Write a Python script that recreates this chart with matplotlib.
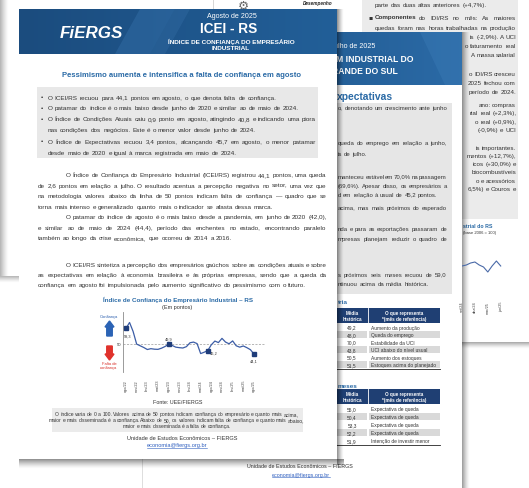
import matplotlib
matplotlib.use("Agg")
import matplotlib.pyplot as plt
import matplotlib.colors as mc
import numpy as np
from matplotlib.patches import Rectangle, FancyArrow

# ---------------- data ----------------
months = ["ago/22", "set/22", "out/22", "nov/22", "dez/22", "jan/23", "fev/23", "mar/23", "abr/23",
          "mai/23", "jun/23", "jul/23", "ago/23", "set/23", "out/23", "nov/23", "dez/23", "jan/24",
          "fev/24", "mar/24", "abr/24", "mai/24", "jun/24", "jul/24", "ago/24", "set/24", "out/24",
          "nov/24", "dez/24", "jan/25", "fev/25", "mar/25", "abr/25", "mai/25", "jun/25", "jul/25",
          "ago/25"]
icei = [59.3, 62.8, 57.5, 50.0, 49.0, 48.0, 46.8, 47.3, 47.0, 46.9, 47.6, 48.6,
        49.9, 49.2, 48.2, 47.9, 47.7, 48.5, 50.8, 51.2, 50.3, 44.4, 45.2, 46.2,
        49.6, 51.8, 50.9, 53.4, 51.2, 50.2, 51.9, 49.0, 48.2, 48.9, 47.9, 46.7, 44.1]
tick_months = months[::3]
labelled_months = ["ago/22", "ago/23", "jul/24", "ago/25"]

idi_months = ["set/24", "out/24", "nov/24", "dez/24", "jan/25", "fev/25", "mar/25", "abr/25", "mai/25", "jun/25"]
idi_values = [101.5, 102.0, 103.0, 103.5, 102.0, 101.0, 98.5, 101.5, 104.0, 101.5]
idi_ticks = ["set/24", "dez/24", "mar/25", "jun/25"]

t1_vals = ["49,2", "48,0", "70,0", "43,8", "50,5", "51,5"]
t1_desc = ["Aumento da produção", "Queda do emprego", "Estabilidade da UCI",
           "UCI abaixo do nível usual", "Aumento dos estoques", "Estoques acima do planejado"]
t2_vals = ["55,0", "50,4", "53,3", "52,2", "51,9"]
t2_desc = ["Expectativa de queda", "Expectativa de queda", "Expectativa de queda",
           "Expectativa de queda", "Intenção de investir menor"]

# ---------------- canvas ----------------
FONT = "Liberation Sans"
plt.rcParams["font.family"] = [FONT, "DejaVu Sans"]
W, H = 529, 489
fig = plt.figure(figsize=(W / 100, H / 100), dpi=100)
fig.patch.set_facecolor("white")
ax = fig.add_axes([0, 0, 1, 1])
ax.set_xlim(0, W)
ax.set_ylim(H, 0)
ax.axis("off")
fig.canvas.draw()
R = fig.canvas.get_renderer()

TXT = "#333333"
BLUE_T = "#2a6aa6"
NAVY = "#1f3f73"

_cache = {}


def tw(s, size, weight="normal", style="normal"):
    key = (s, size, weight, style)
    if key not in _cache:
        t = ax.text(0, 0, s, fontsize=size, fontweight=weight, fontstyle=style)
        _cache[key] = t.get_window_extent(R).width
        t.remove()
    return _cache[key]


def fit(s, target, weight="normal", style="normal"):
    return 10.0 * target / tw(s, 10, weight, style)


def put(x, y, s, size, color=TXT, ha="left", weight="normal", style="normal", z=6, **kw):
    return ax.text(x, y, s, fontsize=size, color=color, ha=ha, va="center",
                   fontweight=weight, fontstyle=style, zorder=z, **kw)


def words_line(x0, y, s, size, x1=None, color=TXT, z=6, ha="left"):
    """Place a line word by word on a common baseline (metrics at 10 pt, scaled)."""
    words = s.split()
    k = size / 10.0
    starts = []
    for i in range(len(words)):
        pre = " ".join(words[:i + 1])
        starts.append((tw(pre, 10) - tw(words[i], 10)) * k)
    total = tw(s, 10) * k
    extra = 0.0
    if x1 is not None and len(words) > 1:
        extra = (x1 - x0 - total) / (len(words) - 1)
    if ha == "right":
        x0 = x0 - total
    elif ha == "center":
        x0 = x0 - total / 2
    yb = y + 0.26 * size * 100 / 72
    for i, w in enumerate(words):
        ax.text(x0 + starts[i] + i * extra, yb, w, fontsize=size, color=color,
                ha="left", va="baseline", zorder=z)


def rect(x0, y0, x1, y1, color, z, **kw):
    ax.add_patch(Rectangle((x0, y0), x1 - x0, y1 - y0, facecolor=color, edgecolor="none", zorder=z, **kw))


def hgrad(x0, x1, y0, y1, c0, c1, z):
    a = np.array(mc.to_rgb(c0))
    b = np.array(mc.to_rgb(c1))
    t = np.linspace(0, 1, 64)[None, :, None]
    img = a + (b - a) * t
    ax.imshow(img, extent=(x0, x1, y1, y0), aspect="auto", zorder=z, interpolation="bilinear")


def shade(x0, x1, y0, y1, axis, a0, z):
    n = 32
    alpha = a0 * np.linspace(1, 0, n) ** 1.4
    if axis == "x":
        img = np.zeros((1, n, 4))
        img[0, :, 3] = alpha
    else:
        img = np.zeros((n, 1, 4))
        img[:, 0, 3] = alpha
    ax.imshow(img, extent=(x0, x1, y1, y0), aspect="auto", zorder=z, interpolation="bilinear")


# ================= right back page =================
rect(213, -5, 540, 343, "white", 1)
ax.plot([213, 213], [0, 10], color="#d0d0d0", lw=0.6, zorder=1.5)
rect(362, -5, 518, 220, "#ebebeb", 1.6)
put(243, 6, "\u2699", 9, color="#6a6a6a", ha="center", z=2, family="DejaVu Sans")
put(318, 4, "Desempenho", fit("Desempenho", 30, "bold", "italic"), color="#222", ha="center",
    weight="bold", style="italic", z=2)
sR = fit("quedas foram nas horas trabalhadas na produção", 138)
words_line(375, 5, "parte das duas altas anteriores (+4,7%).", sR, z=2)
put(368, 18, "\u25aa", sR, z=2, family="DejaVu Sans")
put(375, 18, "Componentes", sR, weight="bold", z=2)
words_line(375 + tw("Componentes", 10, "bold") * sR / 10 + 2, 18, "do IDI/RS no mês: As maiores", sR, 516, z=2)
words_line(375, 28, "quedas foram nas horas trabalhadas na produção", sR, 516, z=2)
right_lines = [
    (37, "is (-2,9%). A UCI"),
    (46, "o faturamento real"),
    (55, "A massa salarial"),
    (74, "o IDI/RS cresceu"),
    (83, "2025 fechou com"),
    (92, "período de 2024."),
    (105, "ano: compras"),
    (113, "rial real (+2,3%),"),
    (122, "o real (+0,9%),"),
    (130, "(-0,9%) e UCI"),
    (148, "is importantes."),
    (156, "mentos (+12,7%),"),
    (164, "icos (+30,0%) e"),
    (172, "biocombustíveis"),
    (181, "o e acessórios"),
    (189, "6,5%) e Couros e"),
]
for y, s in right_lines:
    words_line(516, y, s, sR, z=2, ha="right")
put(463, 226, "strial do RS", 3.8, color=BLUE_T, weight="bold", z=2)
put(463, 233, "(base 2006 = 100)", 3.0, z=2)
shade(462, 540, 343, 350, "y", 0.35, 1.8)

# ================= left back page =================
shade(0, 9, -5, 277, "x", 0.30, 1)
shade(0, 22, 277, 284, "y", 0.30, 1)

# ================= middle page =================
rect(142, 33, 462, 495, "white", 3)
ax.plot([142, 142], [460, 489], color="#d8d8d8", lw=0.6, zorder=3.1)
hgrad(142, 462, 33, 86, "#1a4f82", "#2b6aa6", 3.2)
ax.add_patch(plt.Polygon([[420, 33], [462, 33], [462, 86], [445, 86]], closed=True,
                         facecolor="#3a7ab5", alpha=0.45, edgecolor="none", zorder=3.3))
put(375, 47, "ulho de 2025", fit("Agosto de 2025", 50), color="white", ha="right", z=4)
sH = fit("M INDUSTRIAL DO", 77, "bold")
put(413, 59, "M INDUSTRIAL DO", sH, color="white", ha="right", weight="bold", z=4)
put(398, 71, "RANDE DO SUL", sH, color="white", ha="right", weight="bold", z=4)
put(393, 97, "xpectativas", fit("xpectativas", 56, "bold"), color=BLUE_T, ha="right", weight="bold", z=4)
rect(142, 104, 452, 295, "#e6e6e6", 3.4)
sM = fit("o, denotando um crescimento ante junho", 110)
mid_lines = [
    (108, 447, "o, denotando um crescimento ante junho"),
    (143, 447, "queda do emprego em relação a junho,"),
    (154, None, "is de julho."),
    (177, 447, "manteceu estável em 70,0% na passagem"),
    (186, 447, "(69,6%). Apesar disso, os empresários a"),
    (195, None, "d em relação à usual de 45,2 pontos."),
    (208, 447, "acima, mas mais próximos do esperado"),
    (229, 447, "nda e para as exportações passaram de"),
    (239, 447, "mpresas planejam reduzir o quadro de"),
    (275, 447, "s próximos seis meses recuou de 59,0"),
    (284, None, "ntinuou acima da média histórica."),
]
for y, x1, s in mid_lines:
    words_line(338, y, s, sM, x1, z=4)

sSub = fit("meses", 20, "bold")


def table(ytitle, title, yh, vals, descs, rowh):
    put(338, ytitle, title, sSub, color=BLUE_T, weight="bold", z=4)
    rect(250, yh, 440, yh + 15, NAVY, 4)
    ax.plot([368, 368], [yh, yh + 15], color="white", lw=0.6, zorder=4.1)
    put(352, yh + 4.5, "Média", 3.3, color="white", ha="center", weight="bold", z=4.2)
    put(352, yh + 10.5, "histórica", 3.3, color="white", ha="center", weight="bold", z=4.2)
    put(404, yh + 4.5, "O que representa", 3.3, color="white", ha="center", weight="bold", z=4.2)
    put(404, yh + 10.5, "*(mês de referência)", 3.3, color="white", ha="center", weight="bold", z=4.2)
    for i, (v, d) in enumerate(zip(vals, descs)):
        yr = yh + 15.5 + i * rowh
        if i % 2 == 1:
            rect(250, yr, 367, yr + rowh - 0.8, "#d9d9d9", 4)
            rect(369, yr, 440, yr + rowh - 0.8, "#d9d9d9", 4)
        put(352, yr + rowh / 2, v, 3.5, ha="center", z=4.2)
        put(371, yr + rowh / 2, d, 3.5, z=4.2)
    yb = yh + 15.5 + len(vals) * rowh
    ax.plot([250, 440], [yb, yb], color="#222", lw=0.6, zorder=4.1)


table(303, "tria", 309, t1_vals, t1_desc, 7.5)
table(386, "meses", 390, t2_vals, t2_desc, 8.0)
sU = fit("Unidade de Estudos Econômicos – FIERGS", 105)
put(300, 467, "Unidade de Estudos Econômicos – FIERGS", sU, ha="center", z=4)
put(301, 475, "economia@fiergs.org.br", sU, color="#2f5fbf", ha="center", z=4)
ew1 = tw("economia@fiergs.org.br", 10) * sU / 10
ax.plot([301 - ew1 / 2, 301 + ew1 / 2], [477.5, 477.5], color="#2f5fbf", lw=0.4, zorder=4)
shade(462, 470, 33, 495, "x", 0.40, 3.5)

# ================= front page =================
rect(19, 10, 337, 460, "white", 5)
hgrad(19, 337, 10, 55, "#1b4c7e", "#225f98", 5.1)
ax.add_patch(plt.Polygon([[140, 10], [175, 10], [150, 55], [115, 55]], closed=True,
                         facecolor="#3b78b3", alpha=0.35, edgecolor="none", zorder=5.2))
ax.add_patch(plt.Polygon([[175, 10], [190, 10], [165, 55], [150, 55]], closed=True,
                         facecolor="#4a86be", alpha=0.2, edgecolor="none", zorder=5.2))
put(91.5, 33, "FiERGS", fit("FiERGS", 63, "bold", "italic"), color="white", ha="center",
    weight="bold", style="italic", z=6)
put(232, 16, "Agosto de 2025", fit("Agosto de 2025", 50), color="white", ha="center", z=6)
put(229, 29, "ICEI - RS", fit("ICEI - RS", 57, "bold"), color="white", ha="center", weight="bold", z=6)
sI = fit("ÍNDICE DE CONFIANÇA DO EMPRESÁRIO", 128, "bold")
put(231, 42, "ÍNDICE DE CONFIANÇA DO EMPRESÁRIO", sI, color="white", ha="center", weight="bold", z=6)
put(231, 49, "INDUSTRIAL", sI, color="white", ha="center", weight="bold", z=6)

title_s = "Pessimismo aumenta e intensifica a falta de confiança em agosto"
put(181, 75.5, title_s, fit(title_s, 238, "bold"), color=BLUE_T, ha="center", weight="bold", z=6)

rect(37, 88, 318, 159, "#e8e8e8", 5.5)
sB = fit("de 2,6 pontos em relação a julho. O resultado acentua a percepção negativa no setor, uma vez que", 284)
bullets = [
    (98, "O ICEI/RS recuou para 44,1 pontos em agosto, o que denota falta de confiança.", True, None),
    (108.5, "O patamar do índice é o mais baixo desde junho de 2020 e similar ao de maio de 2024.", True, None),
    (119.5, "O Índice de Condições Atuais caiu 0,9 ponto em agosto, atingindo 40,8 e indicando uma piora", True, 316),
    (130.5, "nas condições dos negócios. Este é o menor valor desde junho de 2024.", False, None),
    (142, "O Índice de Expectativas recuou 3,4 pontos, alcançando 45,7 em agosto, o menor patamar", True, 316),
    (153, "desde maio de 2020 e igual à marca registrada em maio de 2024.", False, None),
]
for y, s, dot, x1 in bullets:
    if dot:
        put(41, y, "\u2022", sB, z=6)
    words_line(48, y, s, sB, x1)

paras = [
    (175.5, 66, 327, "O Índice de Confiança do Empresário Industrial (ICEI/RS) registrou 44,1 pontos, uma queda"),
    (186, 38, 327, "de 2,6 pontos em relação a julho. O resultado acentua a percepção negativa no setor, uma vez que"),
    (196.5, 38, 327, "na metodologia valores abaixo da linha de 50 pontos indicam falta de confiança — quadro que se"),
    (207, 38, None, "torna mais intenso e generalizado quanto mais o indicador se afasta dessa marca."),
    (217.5, 66, 327, "O patamar do índice de agosto é o mais baixo desde a pandemia, em junho de 2020 (42,0),"),
    (228, 38, 327, "e similar ao de maio de 2024 (44,4), período das enchentes no estado, encontrando paralelo"),
    (238.5, 38, None, "também ao longo da crise econômica, que ocorreu de 2014 a 2016."),
    (265, 66, 327, "O ICEI/RS sintetiza a percepção dos empresários gaúchos sobre as condições atuais e sobre"),
    (275, 38, 327, "as expectativas em relação à economia brasileira e às próprias empresas, sendo que a queda da"),
    (285, 38, None, "confiança em agosto foi impulsionada pelo aumento significativo do pessimismo com o futuro."),
]
for y, x0, x1, s in paras:
    words_line(x0, y, s, sB, x1)

ctitle = "Índice de Confiança do Empresário Industrial – RS"
put(178, 300, ctitle, fit(ctitle, 150, "bold"), color=BLUE_T, ha="center", weight="bold", z=6)
put(177, 307.5, "(Em pontos)", fit("(Em pontos)", 30), ha="center", z=6)

# legend arrows
put(108.5, 317, "Confiança", 3.0, color="#2b5fae", ha="center", z=7)
ax.add_patch(FancyArrow(109.5, 337, 0, -15, width=5.5, head_width=9, head_length=6,
                        length_includes_head=True, color="#2b63b5", zorder=7))
ax.add_patch(FancyArrow(109.5, 347, 0, 14, width=5.5, head_width=9, head_length=6,
                        length_includes_head=True, color="#e0322c", zorder=7))
put(109, 364, "Falta de", 3.0, color="#d8302a", ha="center", z=7)
put(109, 368.5, "confiança", 3.0, color="#d8302a", ha="center", z=7)
put(121, 345, "50", 3.0, ha="right", z=7)

put(178, 402, "Fonte: UEE/FIERGS", fit("Fonte: UEE/FIERGS", 50), ha="center", z=6)
rect(52, 409, 303, 433, "#ebebeb", 5.5)
note1 = "O índice varia de 0 a 100. Valores acima de 50 pontos indicam confiança do empresário e quanto mais acima,"
sN = fit(note1, 243)
words_line(176.5, 414.5, note1, sN, ha="center")
words_line(176.5, 420.5, "maior e mais disseminada é a confiança. Abaixo de 50, os valores indicam falta de confiança e quanto mais abaixo,",
           sN, ha="center")
words_line(176.5, 426.5, "maior e mais disseminada é a falta de confiança.", sN, ha="center")
sU2 = fit("Unidade de Estudos Econômicos – FIERGS", 111)
put(182, 438, "Unidade de Estudos Econômicos – FIERGS", sU2, ha="center", z=6)
put(177, 446, "economia@fiergs.org.br", sU2, color="#2f5fbf", ha="center", z=6)
ew = tw("economia@fiergs.org.br", 10) * sU2 / 10
ax.plot([177 - ew / 2, 177 + ew / 2], [448.5, 448.5], color="#2f5fbf", lw=0.4, zorder=6)

shade(337, 344, 10, 466, "x", 0.45, 5.8)
shade(19, 344, 460, 470, "y", 0.45, 5.8)

ax.set_xlim(0, W)
ax.set_ylim(H, 0)

# ================= ICEI chart =================
cx0, cx1, cy0, cy1 = 123, 265, 313, 373
cax = fig.add_axes([cx0 / W, 1 - cy1 / H, (cx1 - cx0) / W, (cy1 - cy0) / H])
cax.set_facecolor("none")
xs = np.arange(len(icei))
cax.axhline(50, color="#9a9a9a", lw=0.5, ls=(0, (3, 2)), zorder=1)
cax.plot(xs, icei, color="#3c5da6", lw=0.9, zorder=3)
lab_idx = [months.index(m) for m in labelled_months]
cax.plot(lab_idx, [icei[i] for i in lab_idx], "s", ms=2.3, color="#1f3d7a", zorder=4)
offs = [(1, -5), (0, 4), (4, -1.5), (0, -5)]
for i, (dx, dy) in zip(lab_idx, offs):
    cax.annotate(f"{icei[i]:.1f}".replace(".", ","), (i, icei[i]), xytext=(dx, dy),
                 textcoords="offset points", fontsize=2.8, color="#333", ha="center", va="center")
cax.set_xlim(-0.84, 39.1)
cax.set_ylim(33.5, 69)
for s in ["top", "right", "bottom"]:
    cax.spines[s].set_visible(False)
cax.spines["left"].set_color("#8a8a8a")
cax.spines["left"].set_linewidth(0.6)
cax.set_yticks([])
cax.set_xticks([months.index(m) for m in tick_months])
cax.set_xticklabels(tick_months, rotation=90, fontsize=2.8, color="#444")
cax.tick_params(axis="x", length=0, pad=5)

# ================= IDI small chart (right back page) =================
ix0, ix1, iy0, iy1 = 462, 502, 245, 292
iax = fig.add_axes([ix0 / W, 1 - iy1 / H, (ix1 - ix0) / W, (iy1 - iy0) / H])
iax.set_facecolor("none")
ixs = np.arange(len(idi_values))
iax.plot(ixs, idi_values, color="#4a6aa8", lw=0.8)
iax.set_xlim(0, len(idi_values) - 1 + 0.3)
iax.set_ylim(89, 112.5)
for s in iax.spines.values():
    s.set_visible(False)
iax.set_yticks([])
iax.set_xticks([idi_months.index(m) for m in idi_ticks])
iax.set_xticklabels(idi_ticks, rotation=90, fontsize=2.8, color="#444")
iax.tick_params(axis="x", length=0, pad=7)

fig.savefig("out.png", dpi=100)
